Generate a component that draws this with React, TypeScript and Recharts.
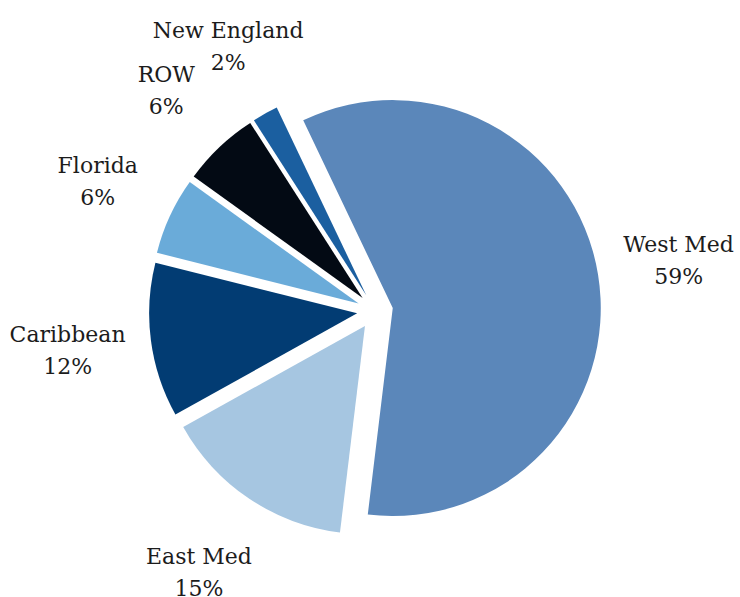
// Fleet deployment by region — exploded pie, labels outside each slice.

import { PieChart, Pie, Cell } from "recharts";

const REGIONS = ["West Med", "East Med", "Caribbean", "Florida", "ROW", "New England"];
const SHARES = [59, 15, 12, 6, 6, 2];
const COLOURS = ["#5b87ba", "#a6c6e1", "#023c73", "#6aabd9", "#030a14", "#1b5fa0"];

const START_ANGLE = 115.5;
const EXPLODE = 18;
const RADIAN = Math.PI / 180;

const data = REGIONS.map((name, i) => ({ name, value: SHARES[i] }));
const total = SHARES.reduce((s, v) => s + v, 0);

// mid angle per slice, same convention as recharts (deg, ccw from 3 o'clock)
const midAngles = SHARES.map((v, i) => {
  const before = SHARES.slice(0, i).reduce((s, x) => s + x, 0);
  return START_ANGLE - ((before + v / 2) / total) * 360;
});

function SliceLabel(props: any) {
  const { cx, cy, midAngle, outerRadius, name, value } = props;
  const ux = Math.cos(-midAngle * RADIAN);
  const uy = Math.sin(-midAngle * RADIAN);
  const r = outerRadius + 101 + 8 * uy;
  const x = cx + r * ux;
  const y = cy + r * uy + 7;
  return (
    <text
      x={x}
      y={y}
      textAnchor="middle"
      fill="#1c1c1c"
      fontFamily="'DejaVu Serif', serif"
      fontSize={22}
    >
      <tspan x={x} dy={-16}>{name}</tspan>
      <tspan x={x} dy={32}>{value}%</tspan>
    </text>
  );
}

export default function App() {
  return (
    <div style={{ position: "absolute", left: 0, top: 0, background: "#fff" }}>
      <PieChart width={740} height={597} margin={{ top: 0, right: 0, bottom: 0, left: 0 }}>
        <Pie
          data={data}
          dataKey="value"
          nameKey="name"
          cx={375}
          cy={311}
          outerRadius={208}
          startAngle={START_ANGLE}
          endAngle={START_ANGLE - 360}
          stroke="none"
          label={SliceLabel}
          labelLine={false}
          isAnimationActive={false}
        >
          {data.map((d, i) => {
            const dx = EXPLODE * Math.cos(-midAngles[i] * RADIAN);
            const dy = EXPLODE * Math.sin(-midAngles[i] * RADIAN);
            return (
              <Cell
                key={d.name}
                fill={COLOURS[i]}
                style={{ transform: `translate(${dx}px, ${dy}px)` }}
              />
            );
          })}
        </Pie>
      </PieChart>
    </div>
  );
}
